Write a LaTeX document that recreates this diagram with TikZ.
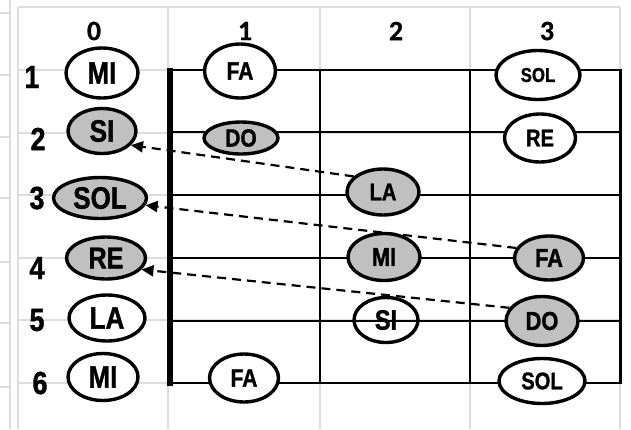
\documentclass[tikz,border=0pt]{standalone}
\usepackage{fontspec}
\usetikzlibrary{shapes.geometric,arrows.meta}
\newfontfamily\nf[FakeStretch=0.84,FakeBold=1.2]{Liberation Sans Bold}
\newfontfamily\hf[FakeBold=0.6]{Carlito Bold}
\definecolor{gridgray}{HTML}{DDDDDD}
\definecolor{notegray}{HTML}{C0C0C0}
\begin{document}
\begin{tikzpicture}[x=1pt,y=-1pt,
  grid/.style={draw=gridgray, line width=2pt},
  tab/.style={line width=1.8pt},
  note/.style={ellipse, draw, line width=3.4pt, fill=white, inner sep=0pt},
  shade/.style={note, fill=notegray},
  fs/.style={font=\nf\fontsize{#1}{#1}\selectfont},
  head/.style={font=\hf\fontsize{28}{28}\selectfont},
  rowlab/.style={font=\nf\fontsize{32}{32}\selectfont},
  hop/.style={dash pattern=on 9pt off 6pt, line width=2.2pt, -{Triangle[length=12pt,width=11pt]}}]
\useasboundingbox (0,0) rectangle (631,429);
\fill[white] (0,0) rectangle (631,429);
% background spreadsheet grid
\foreach \yy in {13,75,137,198,262,323,387} \draw[grid] (0,\yy) -- (10,\yy);
\foreach \yy in {7,70,133,195,258,320,383} \draw[grid] (18,\yy) -- (620,\yy);
\draw[grid] (10,0) -- (10,429);
\foreach \xx in {18,168,320,470,620} \draw[grid] (\xx,7) -- (\xx,429);
% table
\foreach \yy in {70,132,195,258,321,383} \draw[tab] (170,\yy) -- (620,\yy);
\draw[tab] (320,70) -- (320,383);
\draw[tab] (470,70) -- (470,383);
\draw[line width=3pt] (620,69) -- (620,384);
\draw[line width=6pt] (169.5,68) -- (169.5,386);
% headers
\node[head] (h0) at (94,31) {0};
\node[head] (h1) at (245,31) {1};
\node[head] (h2) at (396,31) {2};
\node[head] (h3) at (547,31) {3};
% row labels
\node[rowlab] (r1) at (32,77) {1};
\node[rowlab] (r2) at (38,139) {2};
\node[rowlab] (r3) at (37,198) {3};
\node[rowlab] (r4) at (37,268) {4};
\node[rowlab] (r5) at (37,320) {5};
\node[rowlab] (r6) at (40,383) {6};
% column 0
\node[note, fs=31, minimum width=72pt, minimum height=50pt] (MIa) at (102,73) {MI};
\node[shade, fs=31, minimum width=68pt, minimum height=45pt] (SIa) at (102,131) {SI};
\node[shade, fs=31, minimum width=93pt, minimum height=41pt] (SOLa) at (100,198) {SOL};
\node[shade, fs=30, minimum width=79pt, minimum height=42pt] (REa) at (106,258) {RE};
\node[note, fs=31, minimum width=76pt, minimum height=46pt] (LAa) at (107,318) {LA};
\node[note, fs=31, minimum width=70pt, minimum height=47pt] (MIb) at (103,377) {MI};
% column 1
\node[note, fs=25, minimum width=71pt, minimum height=54pt] (FAa) at (240,71) {FA};
\node[shade, fs=25, minimum width=74pt, minimum height=32pt] (DOa) at (241,138) {DO};
\node[note, fs=25, minimum width=69pt, minimum height=48pt] (FAb) at (244,378) {FA};
% column 2
\node[shade, fs=24, minimum width=72pt, minimum height=46pt] (LAb) at (383,192) {LA};
\node[shade, fs=26, minimum width=72pt, minimum height=47pt] (MIc) at (384,257) {MI};
\node[note, fill=none, fs=28, minimum width=64pt, minimum height=45pt] (SIb) at (386,320) {SI};
% column 3
\node[note, fs=20, minimum width=84pt, minimum height=49pt] (SOLb) at (538,75) {SOL};
\node[note, fs=24, minimum width=71pt, minimum height=48pt] (REb) at (540,138) {RE};
\node[shade, fs=26, minimum width=69pt, minimum height=44pt] (FAc) at (549,258) {FA};
\node[shade, fs=26, minimum width=72pt, minimum height=49pt] (DOb) at (542,321) {DO};
\node[note, fs=24, minimum width=86pt, minimum height=45pt] (SOLc) at (542,381) {SOL};
% dashed arrows
\draw[hop] (LAb.152) -- (SIa.-26);
\draw[hop] (FAc.163) -- (SOLa.-9);
\draw[hop] (DOb.158) -- (REa.-18);
\end{tikzpicture}
\end{document}
